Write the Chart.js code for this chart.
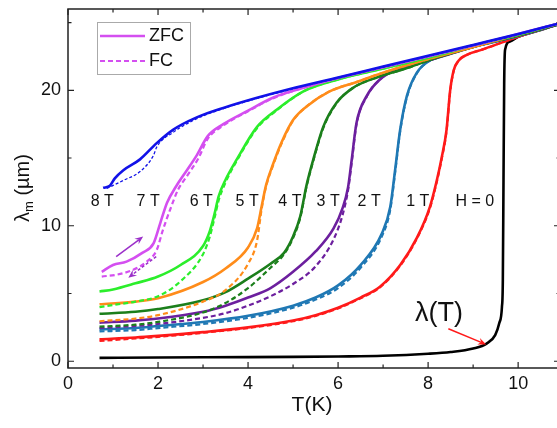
<!DOCTYPE html>
<html>
<head>
<meta charset="utf-8">
<script src="https://cdn.jsdelivr.net/npm/chart.js@4/dist/chart.umd.min.js"></script>
<style>
  html, body { margin: 0; padding: 0; background: #fff; overflow: hidden; }
  #wrap { width: 562px; height: 428px; }
</style>
</head>
<body>
<div id="wrap"><canvas id="chart"></canvas></div>
<script>
// --- data: [T (K), lambda_m (um)] ---
const zfc0 = [[0.7,0.25],[2,0.28],[4,0.3],[5,0.32],[6,0.35],[7,0.4],[8,0.55],[8.5,0.68],[9,0.94],[9.3,1.3],[9.49,1.93],[9.58,2.8],[9.64,4.0],[9.66,6.0],[9.675,13.4],[9.69,20.5],[9.71,23.0],[9.82,23.6],[10,23.95],[10.5,24.45],[10.93,24.95]];

const zfc1 = [[0.7,1.62],[1.5,1.75],[2,1.87],[3,2.15],[4,2.5],[5,3.0],[5.5,3.4],[6,3.95],[6.5,4.7],[6.93,5.5],[7.38,7.1],[7.75,9.1],[8.04,11.4],[8.19,13.3],[8.3,15.0],[8.41,17.1],[8.49,20.0],[8.57,21.5],[8.68,22.2],[8.85,22.6],[9.2,23.0],[10,23.95],[10.93,24.9]];
const fc1 = [[0.7,1.5],[1.5,1.68],[2,1.8],[3,2.1],[4,2.45],[5,2.95],[5.5,3.35],[6,3.9],[6.5,4.65],[6.93,5.45],[7.38,7.05],[7.75,9.05],[8.04,11.3],[8.19,13.2],[8.3,14.9],[8.41,17.0],[8.49,19.9],[8.57,21.45],[8.68,22.2],[8.85,22.6],[9.2,23.0],[10,23.95],[10.93,24.9]];

const zfc2 = [[0.7,2.35],[1.5,2.45],[2,2.6],[3,2.9],[4,3.35],[5,4.1],[5.5,4.7],[6,5.6],[6.5,7.1],[6.97,9.4],[7.16,11.4],[7.27,14.2],[7.38,17.1],[7.53,19.6],[7.75,21.3],[8.04,22.2],[8.56,22.8],[9,23.2],[10,24.0],[10.93,24.9]];
const fc2 = [[0.7,2.2],[1.5,2.3],[2,2.45],[3,2.75],[4,3.2],[5,3.95],[5.5,4.55],[6,5.4],[6.5,6.9],[6.97,9.2],[7.16,11.2],[7.27,14.0],[7.38,17.0],[7.53,19.5],[7.75,21.25],[8.04,22.2],[8.56,22.8],[9,23.2],[10,24.0],[10.93,24.9]];

const zfc3 = [[0.7,2.85],[1.5,3.0],[2,3.15],[3,3.65],[3.5,4.1],[4,4.7],[4.5,5.4],[5,6.6],[5.5,8.1],[5.9,9.8],[6.1,11.3],[6.22,12.8],[6.3,14.8],[6.41,17.6],[6.64,19.6],[6.93,20.8],[7.3,21.55],[7.9,22.1],[8.5,22.7],[9,23.2],[10,24.05],[10.93,24.9]];
const fc3 = [[0.7,2.45],[1.5,2.6],[2,2.75],[3,3.2],[3.5,3.55],[4,4.1],[4.5,4.8],[5,5.7],[5.5,7.0],[5.9,9.0],[6.1,10.8],[6.22,12.6],[6.3,14.6],[6.41,17.5],[6.64,19.55],[6.93,20.8],[7.3,21.55],[7.9,22.1],[8.5,22.7],[9,23.2],[10,24.05],[10.93,24.9]];

const zfc4 = [[0.7,3.5],[1.5,3.65],[2,3.85],[3,4.5],[3.5,5.1],[4,6.1],[4.5,7.2],[4.8,8.0],[5.0,9.2],[5.16,10.7],[5.3,13.0],[5.45,14.9],[5.67,17.3],[5.97,19.1],[6.34,20.2],[6.86,20.95],[7.5,21.6],[8,22.2],[9,23.2],[10,24.05],[10.93,24.9]];
const fc4 = [[0.7,2.55],[1.5,2.7],[2,2.9],[3,3.6],[3.5,4.3],[4,5.4],[4.5,6.9],[4.8,7.9],[5.0,9.1],[5.16,10.6],[5.3,12.9],[5.45,14.8],[5.67,17.2],[5.97,19.05],[6.34,20.2],[6.86,20.95],[7.5,21.6],[8,22.2],[9,23.2],[10,24.05],[10.93,24.9]];

const zfc5 = [[0.7,4.2],[1.5,4.4],[2,4.65],[3,5.85],[3.5,6.85],[4,8.4],[4.2,9.8],[4.3,11.4],[4.4,13.0],[4.55,14.5],[4.75,16.2],[5.0,17.8],[5.3,18.8],[5.8,19.9],[6.4,20.6],[7,21.3],[8,22.3],[9,23.2],[10,24.1],[10.93,24.95]];
const fc5 = [[0.7,2.95],[1.5,3.15],[2,3.4],[3,4.4],[3.5,5.25],[4,7.2],[4.2,8.9],[4.3,11.2],[4.4,12.9],[4.55,14.4],[4.75,16.1],[5.0,17.75],[5.3,18.8],[5.8,19.9],[6.4,20.6],[7,21.3],[8,22.3],[9,23.2],[10,24.1],[10.93,24.95]];

const zfc6 = [[0.7,5.15],[1.0,5.3],[1.5,5.75],[2,6.25],[2.5,7.1],[3,8.5],[3.15,9.6],[3.25,10.8],[3.35,12.2],[3.5,13.4],[3.75,14.9],[4.2,17.3],[4.65,18.6],[5.25,19.95],[6,20.8],[7,21.6],[8,22.4],[9,23.3],[10,24.1],[10.93,24.95]];
const fc6 = [[0.7,4.0],[1.0,4.15],[1.5,4.4],[2,4.8],[2.5,5.9],[3,7.9],[3.15,9.2],[3.25,10.5],[3.35,11.9],[3.5,13.2],[3.75,14.8],[4.2,17.2],[4.65,18.55],[5.25,19.95],[6,20.8],[7,21.6],[8,22.4],[9,23.3],[10,24.1],[10.93,24.95]];

const zfc7 = [[0.75,6.6],[1.0,7.1],[1.3,7.35],[1.65,8.0],[1.9,8.7],[2.05,10.2],[2.2,11.7],[2.4,12.9],[2.6,13.9],[2.86,15.2],[3.1,16.6],[3.45,17.5],[4.0,18.5],[4.55,19.45],[5.25,20.2],[6,20.9],[7,21.7],[8,22.5],[9,23.3],[10,24.15],[10.93,24.95]];
const fc7 = [[0.75,6.25],[1.1,6.4],[1.45,6.75],[1.75,7.35],[1.97,8.2],[2.1,9.6],[2.27,11.2],[2.45,12.7],[2.65,13.7],[2.9,15.0],[3.1,16.4],[3.45,17.4],[4.0,18.45],[4.55,19.4],[5.25,20.2],[6,20.9],[7,21.7],[8,22.5],[9,23.3],[10,24.15],[10.93,24.95]];

const zfc8 = [[0.78,12.8],[0.93,12.95],[1.04,13.5],[1.23,14.1],[1.6,14.9],[1.97,16.1],[2.34,17.1],[2.86,18.0],[3.45,18.7],[4.2,19.45],[4.93,20.1],[6,20.95],[7,21.75],[8,22.55],[9,23.35],[10,24.15],[10.93,24.95]];
const fc8 = [[0.86,12.75],[1.23,13.35],[1.6,14.0],[1.9,15.2],[1.97,15.8],[2.34,16.9],[2.86,17.9],[3.45,18.65],[4.2,19.4],[4.93,20.05],[6,20.9],[7,21.7],[8,22.5],[9,23.3],[10,24.1],[10.93,24.95]];

// field labels and where they sit (T, lambda)
const fieldNames = ['8 T', '7 T', '6 T', '5 T', '4 T', '3 T', '2 T', '1 T', 'H = 0'];
const fieldLabelT = [0.76, 1.78, 2.96, 3.98, 4.93, 5.78, 6.69, 7.77, 9.04];
const fieldLabelLambda = 11.8;

// axis ticks
const xMajor = [0, 2, 4, 6, 8, 10];
const xMinor = [1, 3, 5, 7, 9];
const yMajor = [0, 10, 20];
const yMinor = [5, 15, 25];

// colours, 8 T first so it ends up on top
const colors = ['#1212e8', '#d44ff0', '#2bee2b', '#ff8c1a', '#1b7f1b', '#6c1f9e', '#1f78b4', '#ff1a1a', '#000000'];
const zfcSets = [zfc8, zfc7, zfc6, zfc5, zfc4, zfc3, zfc2, zfc1, zfc0];
const fcSets = [fc8, fc7, fc6, fc5, fc4, fc3, fc2, fc1, null];

const FONT = '"Liberation Sans", Arial, sans-serif';
const toXY = arr => arr.map(p => ({ x: p[0], y: p[1] }));

const datasets = [];
zfcSets.forEach((s, i) => {
    // dashed FC curve sits on top of the solid ZFC one
    if (fcSets[i]) {
        datasets.push({
            label: 'FC ' + fieldNames[i],
            data: toXY(fcSets[i]),
            borderColor: colors[i],
            borderWidth: i === 0 ? 1.3 : 2.2,
            borderDash: i === 0 ? [3, 2] : [5, 3],
            showLine: true,
            pointRadius: 0,
            cubicInterpolationMode: 'monotone'
        });
    }
    datasets.push({
        label: 'ZFC ' + fieldNames[i],
        data: toXY(s),
        borderColor: colors[i],
        borderWidth: 2.6,
        showLine: true,
        pointRadius: 0,
        cubicInterpolationMode: 'monotone'
    });
});

function arrow(ctx, x1, y1, x2, y2, color, width, dash, head) {
    ctx.save();
    ctx.strokeStyle = color;
    ctx.fillStyle = color;
    ctx.lineWidth = width;
    ctx.setLineDash(dash);
    const a = Math.atan2(y2 - y1, x2 - x1);
    ctx.beginPath();
    ctx.moveTo(x1, y1);
    ctx.lineTo(x2 - Math.cos(a) * head * 0.6, y2 - Math.sin(a) * head * 0.6);
    ctx.stroke();
    ctx.setLineDash([]);
    ctx.beginPath();
    ctx.moveTo(x2, y2);
    ctx.lineTo(x2 - head * Math.cos(a - 0.4), y2 - head * Math.sin(a - 0.4));
    ctx.lineTo(x2 - head * 0.6 * Math.cos(a), y2 - head * 0.6 * Math.sin(a));
    ctx.lineTo(x2 - head * Math.cos(a + 0.4), y2 - head * Math.sin(a + 0.4));
    ctx.closePath();
    ctx.fill();
    ctx.restore();
}

const decorations = {
    id: 'decorations',
    afterDatasetsDraw(chart) {
        const { ctx, chartArea: a, scales: { x, y } } = chart;
        ctx.save();

        // frame
        ctx.strokeStyle = '#222';
        ctx.lineWidth = 1.5;
        ctx.strokeRect(a.left, a.top, a.right - a.left, a.bottom - a.top);

        // inward ticks on all four sides
        ctx.lineWidth = 1.2;
        ctx.beginPath();
        const tx = (v, len) => {
            const px = x.getPixelForValue(v);
            ctx.moveTo(px, a.bottom); ctx.lineTo(px, a.bottom - len);
            ctx.moveTo(px, a.top); ctx.lineTo(px, a.top + len);
        };
        const ty = (v, len) => {
            const py = y.getPixelForValue(v);
            ctx.moveTo(a.left, py); ctx.lineTo(a.left + len, py);
            ctx.moveTo(a.right, py); ctx.lineTo(a.right - len, py);
        };
        xMajor.forEach(v => tx(v, 6));
        xMinor.forEach(v => tx(v, 3.5));
        yMajor.forEach(v => ty(v, 6));
        yMinor.forEach(v => ty(v, 3.5));
        ctx.stroke();

        // tick labels
        ctx.fillStyle = '#111';
        ctx.font = '18px ' + FONT;
        ctx.textAlign = 'center';
        ctx.textBaseline = 'middle';
        xMajor.forEach(v => ctx.fillText(String(v), x.getPixelForValue(v), a.bottom + 16));
        ctx.textAlign = 'right';
        yMajor.forEach(v => ctx.fillText(String(v), a.left - 7, y.getPixelForValue(v)));

        // field labels
        ctx.font = '16px ' + FONT;
        ctx.textAlign = 'center';
        fieldNames.forEach((n, i) => {
            ctx.fillText(n, x.getPixelForValue(fieldLabelT[i]), y.getPixelForValue(fieldLabelLambda));
        });

        // lambda(T) label and its arrow
        ctx.font = '27px ' + FONT;
        ctx.fillText('\u03bb(T)', x.getPixelForValue(8.24), y.getPixelForValue(3.5));
        arrow(ctx, x.getPixelForValue(8.45), y.getPixelForValue(2.4),
              x.getPixelForValue(9.29), y.getPixelForValue(1.24), '#ff1a1a', 1.5, [], 9);

        // sweep direction arrows on 7 T
        arrow(ctx, x.getPixelForValue(1.07), y.getPixelForValue(7.72),
              x.getPixelForValue(1.67), y.getPixelForValue(9.2), '#9b2fc9', 1.5, [], 9);
        arrow(ctx, x.getPixelForValue(1.96), y.getPixelForValue(7.72),
              x.getPixelForValue(1.34), y.getPixelForValue(6.17), '#9b2fc9', 1.5, [3, 2], 9);

        // legend
        ctx.strokeStyle = '#aaa';
        ctx.lineWidth = 1;
        ctx.strokeRect(97.5, 22.5, 93, 52);
        ctx.strokeStyle = '#d44ff0';
        ctx.lineWidth = 2.6;
        ctx.beginPath(); ctx.moveTo(100, 36); ctx.lineTo(145, 36); ctx.stroke();
        ctx.lineWidth = 2.2;
        ctx.setLineDash([5, 3]);
        ctx.beginPath(); ctx.moveTo(100, 61); ctx.lineTo(145, 61); ctx.stroke();
        ctx.setLineDash([]);
        ctx.fillStyle = '#111';
        ctx.font = '18px ' + FONT;
        ctx.textAlign = 'left';
        ctx.fillText('ZFC', 149, 36);
        ctx.fillText('FC', 149, 61);

        // axis titles
        ctx.textAlign = 'center';
        ctx.font = '21px ' + FONT;
        ctx.fillText('T(K)', (a.left + a.right) / 2 - 2, 405);

        ctx.translate(22, 188);
        ctx.rotate(-Math.PI / 2);
        ctx.textAlign = 'left';
        ctx.textBaseline = 'alphabetic';
        const big = '20px ' + FONT;
        const small = '13px ' + FONT;
        ctx.font = big;
        const w1 = ctx.measureText('\u03bb').width;
        const w3 = ctx.measureText(' (\u00b5m)').width;
        ctx.font = small;
        const w2 = ctx.measureText('m').width;
        let px = -(w1 + w2 + w3) / 2;
        ctx.font = big;
        ctx.fillText('\u03bb', px, 7);
        px += w1;
        ctx.font = small;
        ctx.fillText('m', px, 11);
        px += w2;
        ctx.font = big;
        ctx.fillText(' (\u00b5m)', px, 7);

        ctx.restore();
    }
};

new Chart(document.getElementById('chart'), {
    type: 'scatter',
    data: { datasets: datasets },
    plugins: [decorations],
    options: {
        responsive: true,
        maintainAspectRatio: false,
        animation: false,
        layout: { padding: { top: 9, right: 2, left: 0, bottom: 0 } },
        plugins: {
            legend: { display: false },
            tooltip: { enabled: false }
        },
        scales: {
            x: {
                type: 'linear',
                min: 0,
                max: 10.93,
                grid: { display: false, drawTicks: false },
                border: { display: false },
                ticks: { display: false },
                afterBuildTicks: s => { s.ticks = xMajor.map(v => ({ value: v })); },
                afterFit: s => { s.height = 60; }
            },
            y: {
                type: 'linear',
                min: -0.5,
                max: 26,
                grid: { display: false, drawTicks: false },
                border: { display: false },
                ticks: { display: false },
                afterBuildTicks: s => { s.ticks = yMajor.map(v => ({ value: v })); },
                afterFit: s => { s.width = 68; }
            }
        }
    }
});
</script>
</body>
</html>
